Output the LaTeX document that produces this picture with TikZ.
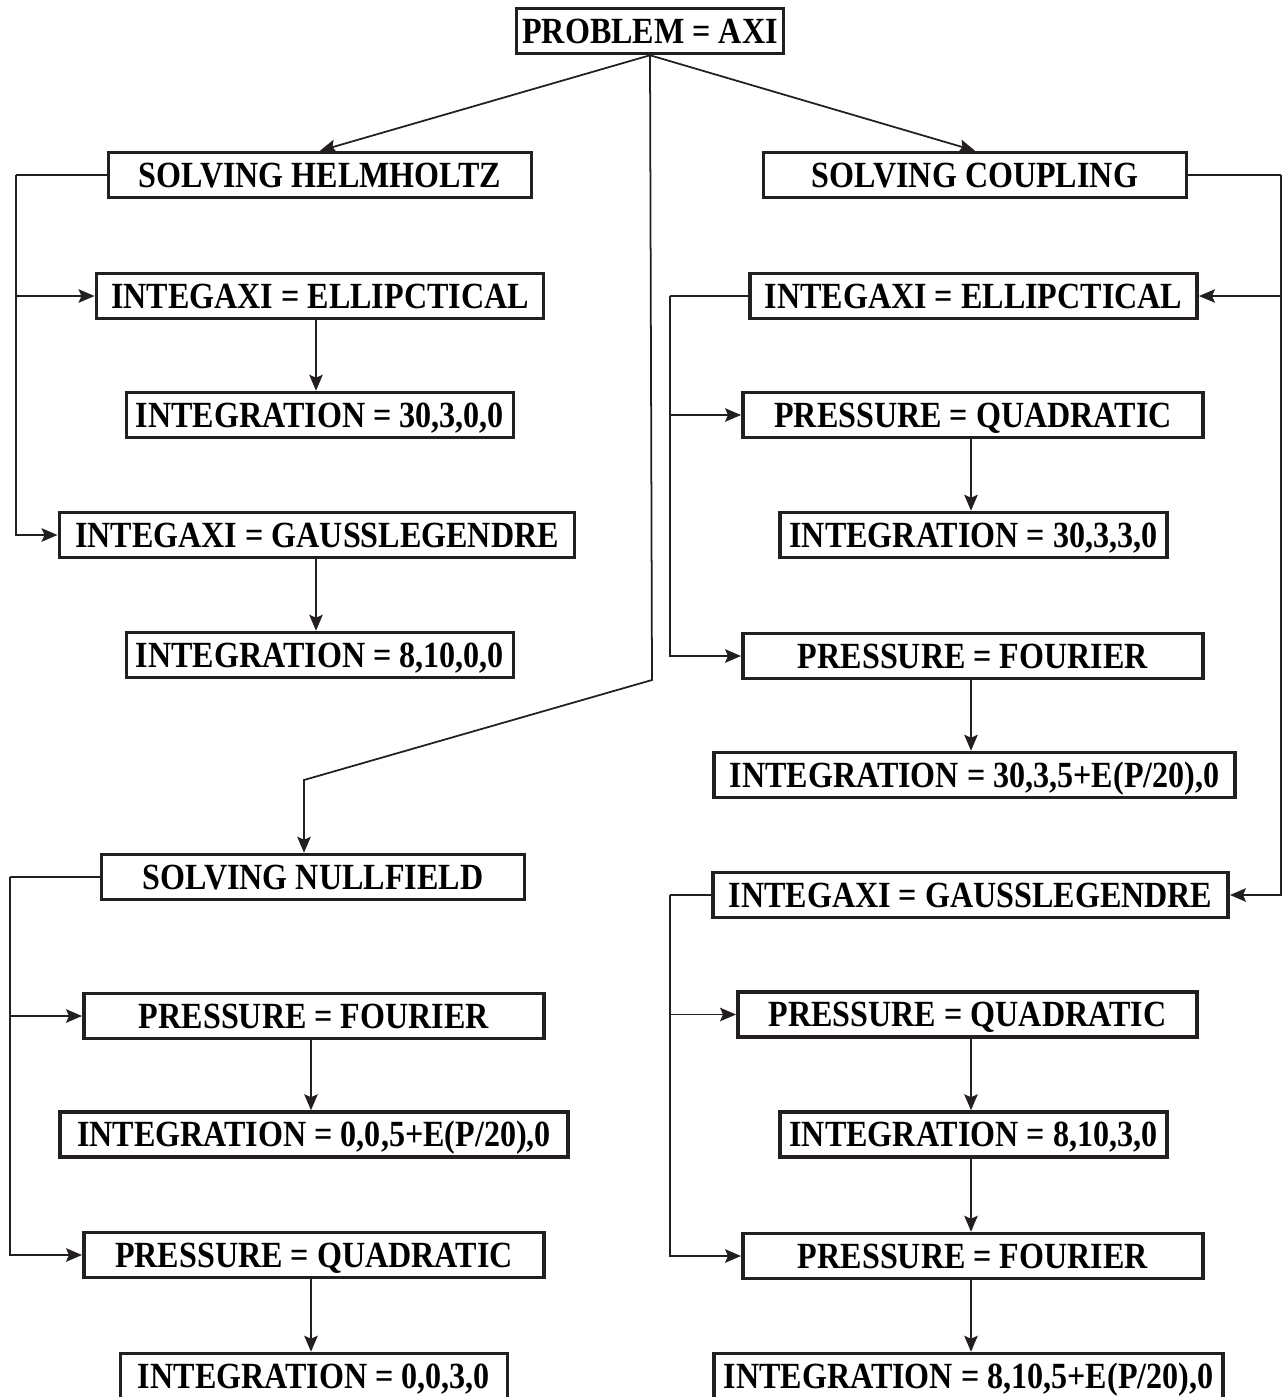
\documentclass[tikz,border=0pt]{standalone}
\usepackage{fontspec}
\setmainfont{Liberation Serif}[FakeStretch=0.87]
\usetikzlibrary{arrows.meta}
\definecolor{ink}{HTML}{231F20}
\tikzset{
  box/.style={draw=ink,line width=2pt,minimum width=#1cm-2pt,minimum height=0.9cm,
    inner sep=0pt,text height=13.8pt,text depth=0pt,text=black,
    font=\fontsize{21}{24}\selectfont\bfseries},
  wire/.style={ink,line width=1pt},
  link/.style={wire,-{Stealth[length=3.2mm,width=2.7mm,inset=0.6mm]}},
}

\begin{document}
\begin{tikzpicture}[x=0.02cm,y=-0.02cm]
  \useasboundingbox (0,0) rectangle (1284,1397);
  % ---- root and the three solvers ----
  \node[box=5.42] (prob) at (650,31) {PROBLEM = AXI};
  \node[box=8.54] (helm) at (320,175) {SOLVING HELMHOLTZ};
  \node[box=8.54] (coup) at (975,175) {SOLVING COUPLING};
  \node[box=8.54] (null) at (313,877) {SOLVING NULLFIELD};
  % ---- helmholtz column ----
  \node[box=9.02]  (hell)  at (320,296) {INTEGAXI = ELLIPCTICAL};
  \node[box=7.82]  (hint1) at (320,415) {INTEGRATION = 30,3,0,0};
  \node[box=10.38] (hgl)   at (317,535) {INTEGAXI = GAUSSLEGENDRE};
  \node[box=7.82]  (hint2) at (320,655) {INTEGRATION = 8,10,0,0};
  % ---- nullfield column ----
  \node[box=9.28]  (nfou)  at (314,1016)   {PRESSURE = FOURIER};
  \node[box=10.24] (nint1) at (314,1134.5) {INTEGRATION = 0,0,5+E(P/20),0};
  \node[box=9.28]  (nquad) at (314,1255)   {PRESSURE = QUADRATIC};
  \node[box=7.82]  (nint2) at (314,1376)   {INTEGRATION = 0,0,3,0};
  % ---- coupling column ----
  \node[box=9.02]  (cell)   at (973.5,296)  {INTEGAXI = ELLIPCTICAL};
  \node[box=9.28]  (cquad1) at (973,415)    {PRESSURE = QUADRATIC};
  \node[box=7.82]  (cint1)  at (973.5,535)  {INTEGRATION = 30,3,3,0};
  \node[box=9.28]  (cfou1)  at (973,656)    {PRESSURE = FOURIER};
  \node[box=10.5]  (cint2)  at (974.5,775)  {INTEGRATION = 30,3,5+E(P/20),0};
  \node[box=10.38] (cgl)    at (970.5,895)  {INTEGAXI = GAUSSLEGENDRE};
  \node[box=9.26]  (cquad2) at (967.5,1014.5) {PRESSURE = QUADRATIC};
  \node[box=7.82]  (cint3)  at (973.5,1134.5) {INTEGRATION = 8,10,3,0};
  \node[box=9.28]  (cfou2)  at (973,1256)   {PRESSURE = FOURIER};
  \node[box=10.26] (cint4)  at (968.5,1376) {INTEGRATION = 8,10,5+E(P/20),0};

  % root fans out to the solvers
  \coordinate (bendA) at (652,680);
  \coordinate (bendB) at (304,780);
  \draw[link] (prob.south) -- (helm.north);
  \draw[link] (prob.south) -- (coup.north);
  \draw[link] (prob.south) -- (bendA) -- (bendB) -- (bendB |- null.north);

  % side buses
  \coordinate (hbus) at (16,175);
  \draw[wire] (helm.west) -- (hbus);
  \draw[link] (hbus) |- (hgl.west);
  \draw[link] (hbus |- hell) -- (hell.west);

  \coordinate (cbus) at (1281,175);
  \draw[wire] (coup.east) -- (cbus);
  \draw[link] (cbus) |- (cgl.east);
  \draw[link] (cbus |- cell) -- (cell.east);

  \coordinate (ebus) at (670,296);
  \draw[wire] (cell.west) -- (ebus);
  \draw[link] (ebus) |- (cfou1.west);
  \draw[link] (ebus |- cquad1) -- (cquad1.west);

  \coordinate (gbus) at (670,895);
  \draw[wire] (cgl.west) -- (gbus);
  \draw[link] (gbus) |- (cfou2.west);
  \draw[link] (gbus |- cquad2) -- (cquad2.west);

  \coordinate (nbus) at (10,877);
  \draw[wire] (null.west) -- (nbus);
  \draw[link] (nbus) |- (nquad.west);
  \draw[link] (nbus |- nfou) -- (nfou.west);

  % straight drops inside the columns
  \foreach \a/\b/\x in {hell/hint1/316,hgl/hint2/316,nfou/nint1/311,nquad/nint2/311,
                        cquad1/cint1/971,cfou1/cint2/971,cquad2/cint3/971,
                        cint3/cfou2/971,cfou2/cint4/971}
    \draw[link] (\a.south -| \x,0) -- (\b.north -| \x,0);
\end{tikzpicture}
\end{document}
